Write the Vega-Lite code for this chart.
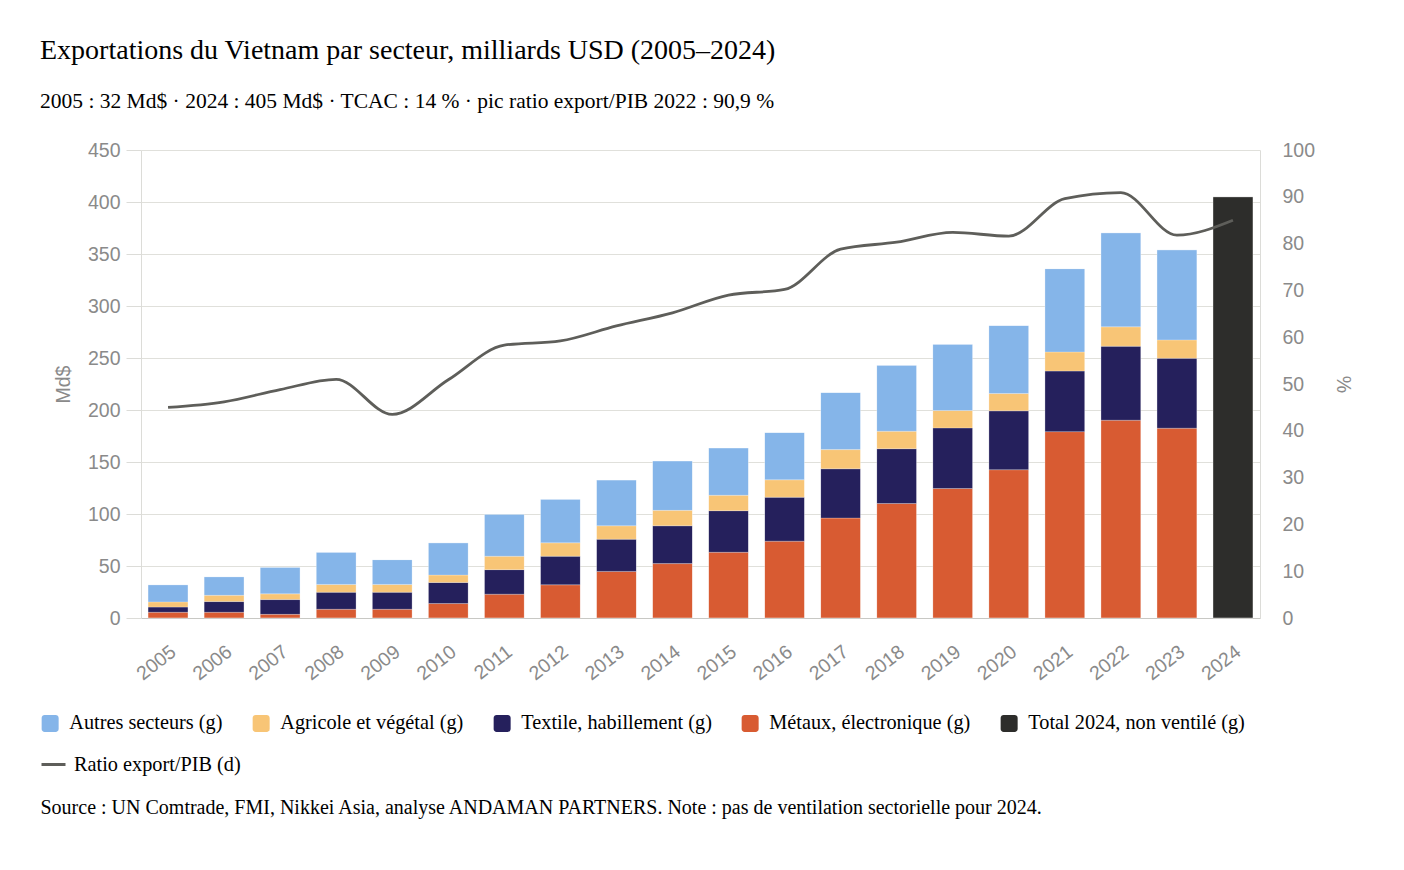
{
  "$schema": "https://vega.github.io/schema/vega-lite/v6.json",
  "description": "Exportations du Vietnam par secteur, 2005-2024, avec ratio export/PIB",
  "width": 1119,
  "height": 468,
  "autosize": "none",
  "padding": {"left": 141, "top": 150, "right": 144, "bottom": 252},
  "background": "white",
  "title": {
    "text": "Exportations du Vietnam par secteur, milliards USD (2005–2024)",
    "subtitle": "2005 : 32 Md$ · 2024 : 405 Md$ · TCAC : 14 % · pic ratio export/PIB 2022 : 90,9 %",
    "anchor": "start",
    "frame": "group",
    "dx": -101,
    "offset": 28,
    "font": "Liberation Serif",
    "fontSize": 28,
    "fontWeight": "normal",
    "color": "#000000",
    "subtitleFont": "Liberation Serif",
    "subtitleFontSize": 21.5,
    "subtitleColor": "#000000",
    "subtitlePadding": 26
  },
  "config": {
    "view": {"stroke": null},
    "axis": {
      "labelFont": "Liberation Sans",
      "labelFontSize": 19.5,
      "labelColor": "#8a8a8a",
      "titleFont": "Liberation Sans",
      "titleFontSize": 19.5,
      "titleFontWeight": "normal",
      "titleColor": "#8a8a8a",
      "gridColor": "#e0e0db",
      "domainColor": "#dcdcd8",
      "tickColor": "#dcdcd8"
    },
    "legend": {
      "labelFont": "Liberation Serif",
      "labelFontSize": 20.3,
      "labelColor": "#000000",
      "labelLimit": 500
    }
  },
  "datasets": {
    "sectors": [
      {"year": "2005", "sector": "Métaux, électronique (g)", "value": 5.5},
      {"year": "2005", "sector": "Textile, habillement (g)", "value": 5},
      {"year": "2005", "sector": "Agricole et végétal (g)", "value": 5},
      {"year": "2005", "sector": "Autres secteurs (g)", "value": 16.5},
      {"year": "2006", "sector": "Métaux, électronique (g)", "value": 5.5},
      {"year": "2006", "sector": "Textile, habillement (g)", "value": 10.3},
      {"year": "2006", "sector": "Agricole et végétal (g)", "value": 6},
      {"year": "2006", "sector": "Autres secteurs (g)", "value": 17.9},
      {"year": "2007", "sector": "Métaux, électronique (g)", "value": 3.5},
      {"year": "2007", "sector": "Textile, habillement (g)", "value": 14.2},
      {"year": "2007", "sector": "Agricole et végétal (g)", "value": 5.5},
      {"year": "2007", "sector": "Autres secteurs (g)", "value": 25.5},
      {"year": "2008", "sector": "Métaux, électronique (g)", "value": 8.4},
      {"year": "2008", "sector": "Textile, habillement (g)", "value": 16.4},
      {"year": "2008", "sector": "Agricole et végétal (g)", "value": 7.5},
      {"year": "2008", "sector": "Autres secteurs (g)", "value": 30.9},
      {"year": "2009", "sector": "Métaux, électronique (g)", "value": 8.4},
      {"year": "2009", "sector": "Textile, habillement (g)", "value": 16.4},
      {"year": "2009", "sector": "Agricole et végétal (g)", "value": 7.5},
      {"year": "2009", "sector": "Autres secteurs (g)", "value": 23.8},
      {"year": "2010", "sector": "Métaux, électronique (g)", "value": 13.9},
      {"year": "2010", "sector": "Textile, habillement (g)", "value": 20.3},
      {"year": "2010", "sector": "Agricole et végétal (g)", "value": 7.1},
      {"year": "2010", "sector": "Autres secteurs (g)", "value": 31},
      {"year": "2011", "sector": "Métaux, électronique (g)", "value": 22.9},
      {"year": "2011", "sector": "Textile, habillement (g)", "value": 23.6},
      {"year": "2011", "sector": "Agricole et végétal (g)", "value": 12.9},
      {"year": "2011", "sector": "Autres secteurs (g)", "value": 40.3},
      {"year": "2012", "sector": "Métaux, électronique (g)", "value": 31.9},
      {"year": "2012", "sector": "Textile, habillement (g)", "value": 27.5},
      {"year": "2012", "sector": "Agricole et végétal (g)", "value": 12.9},
      {"year": "2012", "sector": "Autres secteurs (g)", "value": 41.9},
      {"year": "2013", "sector": "Métaux, électronique (g)", "value": 44.8},
      {"year": "2013", "sector": "Textile, habillement (g)", "value": 31},
      {"year": "2013", "sector": "Agricole et végétal (g)", "value": 12.9},
      {"year": "2013", "sector": "Autres secteurs (g)", "value": 43.9},
      {"year": "2014", "sector": "Métaux, électronique (g)", "value": 52.3},
      {"year": "2014", "sector": "Textile, habillement (g)", "value": 36.4},
      {"year": "2014", "sector": "Agricole et végétal (g)", "value": 14.8},
      {"year": "2014", "sector": "Autres secteurs (g)", "value": 47.5},
      {"year": "2015", "sector": "Métaux, électronique (g)", "value": 63.2},
      {"year": "2015", "sector": "Textile, habillement (g)", "value": 40},
      {"year": "2015", "sector": "Agricole et végétal (g)", "value": 14.8},
      {"year": "2015", "sector": "Autres secteurs (g)", "value": 45.5},
      {"year": "2016", "sector": "Métaux, électronique (g)", "value": 73.9},
      {"year": "2016", "sector": "Textile, habillement (g)", "value": 42.2},
      {"year": "2016", "sector": "Agricole et végétal (g)", "value": 16.8},
      {"year": "2016", "sector": "Autres secteurs (g)", "value": 45.5},
      {"year": "2017", "sector": "Métaux, électronique (g)", "value": 96.1},
      {"year": "2017", "sector": "Textile, habillement (g)", "value": 47.4},
      {"year": "2017", "sector": "Agricole et végétal (g)", "value": 18.4},
      {"year": "2017", "sector": "Autres secteurs (g)", "value": 54.9},
      {"year": "2018", "sector": "Métaux, électronique (g)", "value": 110.1},
      {"year": "2018", "sector": "Textile, habillement (g)", "value": 52.7},
      {"year": "2018", "sector": "Agricole et végétal (g)", "value": 16.8},
      {"year": "2018", "sector": "Autres secteurs (g)", "value": 63.4},
      {"year": "2019", "sector": "Métaux, électronique (g)", "value": 124.5},
      {"year": "2019", "sector": "Textile, habillement (g)", "value": 58.3},
      {"year": "2019", "sector": "Agricole et végétal (g)", "value": 16.7},
      {"year": "2019", "sector": "Autres secteurs (g)", "value": 63.7},
      {"year": "2020", "sector": "Métaux, électronique (g)", "value": 142.6},
      {"year": "2020", "sector": "Textile, habillement (g)", "value": 56.6},
      {"year": "2020", "sector": "Agricole et végétal (g)", "value": 16.7},
      {"year": "2020", "sector": "Autres secteurs (g)", "value": 65.4},
      {"year": "2021", "sector": "Métaux, électronique (g)", "value": 179.2},
      {"year": "2021", "sector": "Textile, habillement (g)", "value": 58.3},
      {"year": "2021", "sector": "Agricole et végétal (g)", "value": 18.3},
      {"year": "2021", "sector": "Autres secteurs (g)", "value": 80.1},
      {"year": "2022", "sector": "Métaux, électronique (g)", "value": 190.2},
      {"year": "2022", "sector": "Textile, habillement (g)", "value": 71.1},
      {"year": "2022", "sector": "Agricole et végétal (g)", "value": 18.7},
      {"year": "2022", "sector": "Autres secteurs (g)", "value": 90.4},
      {"year": "2023", "sector": "Métaux, électronique (g)", "value": 182.5},
      {"year": "2023", "sector": "Textile, habillement (g)", "value": 67.2},
      {"year": "2023", "sector": "Agricole et végétal (g)", "value": 17.7},
      {"year": "2023", "sector": "Autres secteurs (g)", "value": 86.6},
      {"year": "2024", "sector": "Total 2024, non ventilé (g)", "value": 405}
    ],
    "ratio": [
      {"year": "2005", "ratio": 45},
      {"year": "2006", "ratio": 46.2},
      {"year": "2007", "ratio": 48.8},
      {"year": "2008", "ratio": 51},
      {"year": "2009", "ratio": 43.5},
      {"year": "2010", "ratio": 50.9},
      {"year": "2011", "ratio": 58.3},
      {"year": "2012", "ratio": 59.2},
      {"year": "2013", "ratio": 62.4},
      {"year": "2014", "ratio": 65.2},
      {"year": "2015", "ratio": 69},
      {"year": "2016", "ratio": 70.2},
      {"year": "2017", "ratio": 78.8},
      {"year": "2018", "ratio": 80.3},
      {"year": "2019", "ratio": 82.4},
      {"year": "2020", "ratio": 81.6},
      {"year": "2021", "ratio": 89.6},
      {"year": "2022", "ratio": 90.9},
      {"year": "2023", "ratio": 81.8},
      {"year": "2024", "ratio": 85}
    ]
  },
  "layer": [
    {
      "data": {"name": "sectors"},
      "transform": [
        {"calculate": "indexof(['Métaux, électronique (g)', 'Textile, habillement (g)', 'Agricole et végétal (g)', 'Autres secteurs (g)', 'Total 2024, non ventilé (g)'], datum.sector)", "as": "stack_order"}
      ],
      "mark": {
        "type": "bar",
        "cornerRadiusTopLeft": {"expr": "datum.sector == 'Autres secteurs (g)' || datum.sector == 'Total 2024, non ventilé (g)' ? 4 : 0"},
        "cornerRadiusTopRight": {"expr": "datum.sector == 'Autres secteurs (g)' || datum.sector == 'Total 2024, non ventilé (g)' ? 4 : 0"},
        "stroke": "#ffffff",
        "strokeWidth": 0.4,
        "strokeOpacity": 0.6
      },
      "encoding": {
        "x": {
          "field": "year",
          "type": "ordinal",
          "scale": {"paddingInner": 0.285, "paddingOuter": 0.125},
          "axis": {
            "labelAngle": -38,
            "ticks": false,
            "domainColor": "#c8c8c4",
            "labelPadding": 24,
            "title": "Source : UN Comtrade, FMI, Nikkei Asia, analyse ANDAMAN PARTNERS. Note : pas de ventilation sectorielle pour 2024.",
            "titleFont": "Liberation Serif",
            "titleFontSize": 20,
            "titleColor": "#000000",
            "titleAnchor": "start",
            "titleAlign": "left",
            "titleBaseline": "alphabetic",
            "titleX": -101,
            "titleY": 195
          }
        },
        "y": {
          "field": "value",
          "type": "quantitative",
          "stack": "zero",
          "scale": {"domain": [0, 450]},
          "axis": {
            "title": "Md$",
            "values": [0, 50, 100, 150, 200, 250, 300, 350, 400, 450],
            "tickSize": 15,
            "labelPadding": 6,
            "titlePadding": 14
          }
        },
        "order": {"field": "stack_order", "type": "quantitative"},
        "color": {
          "field": "sector",
          "type": "nominal",
          "scale": {
            "domain": ["Autres secteurs (g)", "Agricole et végétal (g)", "Textile, habillement (g)", "Métaux, électronique (g)", "Total 2024, non ventilé (g)"],
            "range": ["#85b5e9", "#f8c576", "#25205c", "#d85b32", "#2d2d2b"]
          },
          "legend": {
            "title": null,
            "orient": "none",
            "legendX": -101,
            "legendY": 563,
            "direction": "horizontal",
            "columns": 5,
            "columnPadding": 28,
            "symbolType": "M -0.65 -1 H 0.65 A 0.35 0.35 0 0 1 1 -0.65 V 0.65 A 0.35 0.35 0 0 1 0.65 1 H -0.65 A 0.35 0.35 0 0 1 -1 0.65 V -0.65 A 0.35 0.35 0 0 1 -0.65 -1 Z",
            "symbolSize": 289,
            "symbolStrokeWidth": 0,
            "symbolOpacity": 1,
            "labelOffset": 9
          }
        }
      }
    },
    {
      "data": {"name": "ratio"},
      "mark": {"type": "line", "interpolate": "monotone", "strokeWidth": 2.8},
      "encoding": {
        "x": {"field": "year", "type": "ordinal"},
        "y": {
          "field": "ratio",
          "type": "quantitative",
          "scale": {"domain": [0, 100]},
          "axis": {
            "orient": "right",
            "title": "%",
            "values": [0, 10, 20, 30, 40, 50, 60, 70, 80, 90, 100],
            "grid": false,
            "ticks": false,
            "labelPadding": 22,
            "titlePadding": 18
          }
        },
        "stroke": {
          "datum": "Ratio export/PIB (d)",
          "type": "nominal",
          "scale": {"range": ["#5e5e5a"]},
          "legend": {
            "title": null,
            "orient": "none",
            "legendX": -101,
            "legendY": 601,
            "symbolType": "stroke",
            "symbolSize": 576,
            "symbolStrokeWidth": 3,
            "labelOffset": 7
          }
        }
      }
    }
  ],
  "resolve": {"scale": {"y": "independent"}}
}
